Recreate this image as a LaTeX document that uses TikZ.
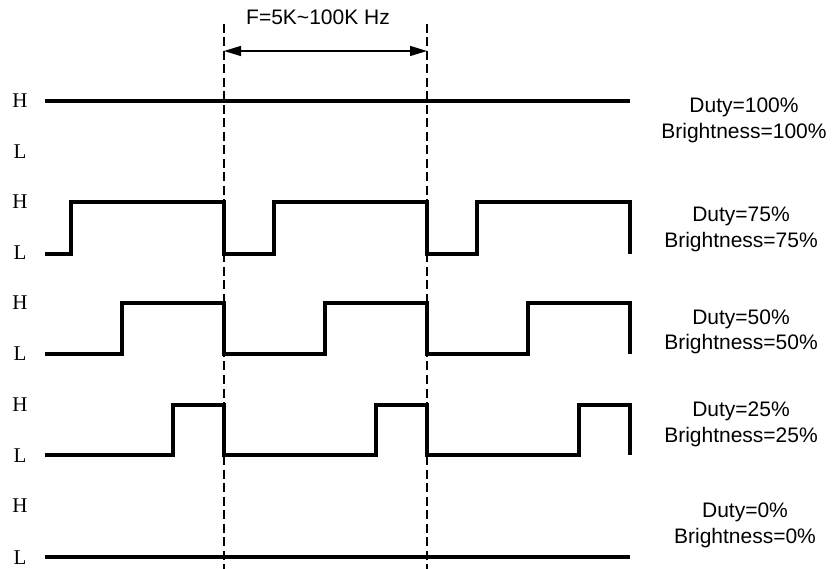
\documentclass[tikz,border=0pt]{standalone}
\usepackage{fontspec}
\setmainfont{Liberation Serif}
\setsansfont{Liberation Sans}
\usetikzlibrary{arrows.meta}
\begin{document}
\begin{tikzpicture}[x=1pt,y=-1pt,
  wave/.style={line width=3.4pt,line join=miter},
  guide/.style={line width=1.4pt,dash pattern=on 9pt off 4.5pt},
  dim/.style={line width=1.3pt,{Triangle[length=17pt,width=10pt]}-{Triangle[length=17pt,width=10pt]}},
  lvl/.style={font=\fontsize{21}{24}\selectfont\rmfamily,anchor=base,inner sep=0pt},
  info/.style={font=\fontsize{21}{24}\selectfont\sffamily,anchor=base,inner sep=0pt}]
\useasboundingbox (0,0) rectangle (833,569);
% guide lines
\coordinate (g1t) at (224,24); \coordinate (g1b) at (224,569);
\coordinate (g2t) at (427,24); \coordinate (g2b) at (427,569);
\draw[guide] (g1t) -- (g1b);
\draw[guide] (g2t) -- (g2b);
\coordinate (a1) at (224,51); \coordinate (a2) at (427,51);
\draw[dim] (a1) -- (a2);
\node[info] (freq) at (318,25) {F=5K\textasciitilde100K Hz};
% level labels
\foreach \i/\hy/\ly in {1/108/159,2/209/260,3/310/361,4/411/462,5/512/564}{
  \node[lvl] (H\i) at (20,\hy) {H};
  \node[lvl] (L\i) at (20,\ly) {L};
}
% waveforms
\draw[wave] (45,101) -- (630,101);
\draw[wave] (45,254) -- (71,254) -- (71,202) -- (224,202) -- (224,254) -- (274,254) -- (274,202) -- (427,202) -- (427,254) -- (477,254) -- (477,202) -- (630,202) -- (630,254);
\draw[wave] (45,354) -- (122,354) -- (122,303) -- (224,303) -- (224,354) -- (325,354) -- (325,303) -- (427,303) -- (427,354) -- (528,354) -- (528,303) -- (630,303) -- (630,354);
\draw[wave] (45,455) -- (173,455) -- (173,405) -- (224,405) -- (224,455) -- (376,455) -- (376,405) -- (427,405) -- (427,455) -- (579,455) -- (579,405) -- (630,405) -- (630,455);
\draw[wave] (45,557) -- (630,557);
% right labels
\node[info] (d100) at (744,113) {Duty=100\%};
\node[info] (b100) at (744,139) {Brightness=100\%};
\node[info] (d75) at (741,222) {Duty=75\%};
\node[info] (b75) at (741,248) {Brightness=75\%};
\node[info] (d50) at (741,325) {Duty=50\%};
\node[info] (b50) at (741,350) {Brightness=50\%};
\node[info] (d25) at (741,417) {Duty=25\%};
\node[info] (b25) at (741,442) {Brightness=25\%};
\node[info] (d0) at (745,517) {Duty=0\%};
\node[info] (b0) at (745,543) {Brightness=0\%};
\end{tikzpicture}
\end{document}
